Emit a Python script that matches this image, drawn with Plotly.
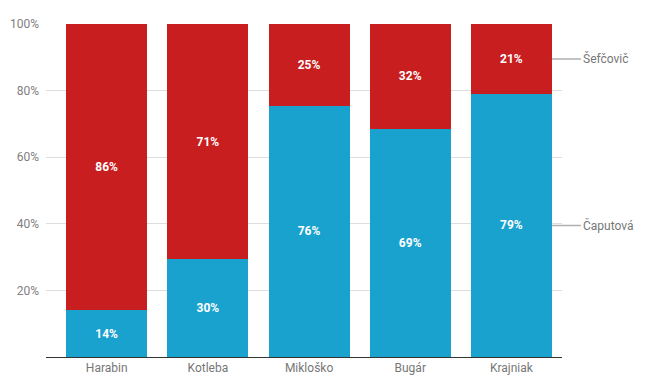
import plotly.graph_objects as go

candidates = ["Harabin", "Kotleba", "Mikloško", "Bugár", "Krajniak"]
caputova = [14.1, 29.4, 75.5, 68.5, 79.0]
sefcovic = [85.9, 70.6, 24.5, 31.5, 21.0]
caputova_labels = ["14%", "30%", "76%", "69%", "79%"]
sefcovic_labels = ["86%", "71%", "25%", "32%", "21%"]
series_names = ["Čaputová", "Šefčovič"]
y_ticks = [20, 40, 60, 80, 100]
y_tick_labels = ["20%", "40%", "60%", "80%", "100%"]

BLUE = "#19a2ce"
RED = "#c91e1f"

fig = go.Figure()
fig.add_trace(go.Bar(
    x=candidates, y=caputova, name=series_names[0], marker_color=BLUE,
    marker_line_width=0, text=caputova_labels, textposition="inside",
    insidetextanchor="middle",
    textfont=dict(family="Roboto", size=12, color="white", weight="bold"),
))
fig.add_trace(go.Bar(
    x=candidates, y=sefcovic, name=series_names[1], marker_color=RED,
    marker_line_width=0, text=sefcovic_labels, textposition="inside",
    insidetextanchor="middle",
    textfont=dict(family="Roboto", size=12, color="white", weight="bold"),
))

last = len(candidates) - 1
tot = caputova[last] + sefcovic[last]
y_cap = caputova[last] / tot * 100 / 2
y_sef = (caputova[last] + sefcovic[last] / 2) / tot * 100
for name, yy in [(series_names[0], y_cap), (series_names[1], y_sef)]:
    fig.add_annotation(
        x=last + 0.4, y=yy, xref="x", yref="y", text=name,
        showarrow=True, arrowhead=0, arrowwidth=1.5, arrowcolor="#b0b0b0",
        ax=29, ay=0, xanchor="left", borderpad=1, standoff=0,
        font=dict(family="Roboto", size=12, color="#777777"),
    )

fig.update_layout(
    barmode="stack", barnorm="percent", bargap=0.2,
    width=649, height=378,
    margin=dict(l=46, r=87, t=24, b=21, autoexpand=False),
    paper_bgcolor="white", plot_bgcolor="white",
    showlegend=False,
    font=dict(family="Roboto", size=12, color="#777777"),
    xaxis=dict(range=[-0.6, 4.5], showline=True, linecolor="#333333",
               linewidth=1, ticks="", showgrid=False, automargin=False,
               tickfont=dict(family="Roboto", size=12, color="#777777")),
    yaxis=dict(range=[0, 100], tickvals=y_ticks, ticktext=y_tick_labels,
               showgrid=True, gridcolor="#dddddd", gridwidth=1,
               zeroline=False, ticks="", automargin=False,
               ticklabelstandoff=6,
               tickfont=dict(family="Roboto", size=12, color="#808080")),
)

fig.write_html("out.html", config={"displayModeBar": False},
               post_script="document.body.style.margin='0';document.body.style.overflow='hidden';")
